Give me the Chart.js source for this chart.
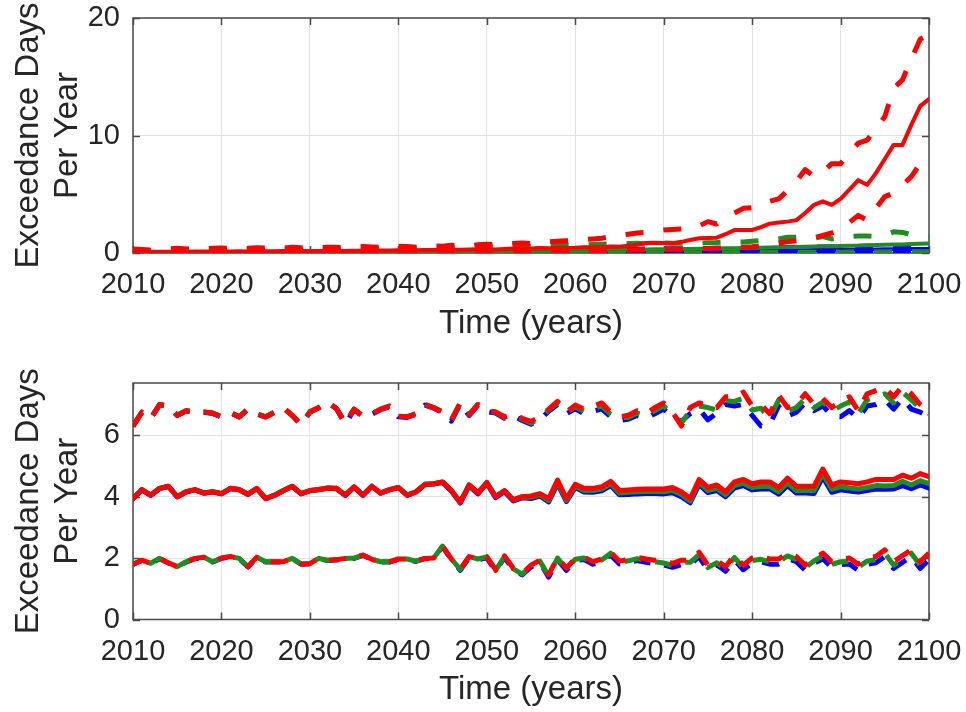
<!DOCTYPE html>
<html>
<head>
<meta charset="utf-8">
<script src="https://cdn.jsdelivr.net/npm/chart.js@4.4.1/dist/chart.umd.min.js"></script>
<style>
  html, body { margin: 0; padding: 0; background: #ffffff; }
  #wrap { position: relative; width: 966px; height: 712px; overflow: hidden; }
  .panel { position: absolute; left: 0; width: 966px; height: 356px; }
</style>
</head>
<body>
<div id="wrap">
  <div class="panel" style="top:0"><canvas id="topChart" width="966" height="356"></canvas></div>
  <div class="panel" style="top:356px"><canvas id="bottomChart" width="966" height="356"></canvas></div>
</div>
<script>
// ---- years on the x axis (2010 .. 2100) ----
const years = [];
for (let y = 2010; y <= 2100; y++) years.push(y);

const xTicks = [2010, 2020, 2030, 2040, 2050, 2060, 2070, 2080, 2090, 2100];
const yTicksTop = [0, 10, 20];
const yTicksBottom = [0, 2, 4, 6];

// ---- upper panel: exceedance days per year ----
const redMedTop = [
  0.10,0.09,0.10,0.11,0.10,0.12,0.11,0.12,0.12,0.13,
  0.12,0.13,0.14,0.13,0.14,0.15,0.14,0.16,0.15,0.17,
  0.16,0.18,0.17,0.19,0.18,0.20,0.19,0.21,0.22,0.21,
  0.23,0.22,0.24,0.25,0.26,0.25,0.28,0.27,0.30,0.31,
  0.32,0.30,0.35,0.38,0.40,0.38,0.42,0.40,0.45,0.43,
  0.45,0.50,0.48,0.52,0.55,0.54,0.62,0.70,0.85,0.88,
  0.85,0.82,0.95,1.10,1.25,1.28,1.30,1.60,1.95,1.96,
  1.96,2.20,2.50,2.60,2.67,2.80,3.40,4.10,4.40,4.10,
  4.60,5.40,6.20,5.80,6.80,8.00,9.20,9.20,10.9,12.5,
  13.1];
const redUpTop = [
  0.35,0.30,0.25,0.30,0.35,0.40,0.35,0.30,0.35,0.40,
  0.42,0.38,0.35,0.40,0.45,0.42,0.38,0.42,0.48,0.45,
  0.40,0.45,0.50,0.48,0.45,0.50,0.55,0.52,0.48,0.55,
  0.58,0.55,0.50,0.55,0.60,0.58,0.65,0.62,0.60,0.70,
  0.75,0.72,0.70,0.80,0.85,0.80,0.90,0.95,1.00,1.05,
  1.05,1.15,1.20,1.25,1.40,1.50,1.60,1.70,1.75,1.85,
  1.95,2.00,2.05,2.10,2.30,2.67,2.47,3.00,3.40,3.80,
  3.85,4.10,4.40,4.60,5.30,6.10,7.10,6.50,6.90,7.60,
  7.60,8.50,9.35,9.60,10.6,11.6,14.0,14.75,16.5,18.2,
  18.6];
const redLowTop = [
  0.02,0.02,0.03,0.02,0.03,0.03,0.02,0.03,0.04,0.03,
  0.03,0.04,0.03,0.04,0.04,0.05,0.04,0.05,0.05,0.06,
  0.05,0.06,0.06,0.07,0.06,0.07,0.08,0.07,0.08,0.09,
  0.08,0.09,0.10,0.09,0.10,0.11,0.10,0.12,0.11,0.12,
  0.12,0.13,0.12,0.14,0.15,0.14,0.16,0.15,0.17,0.18,
  0.17,0.18,0.20,0.19,0.21,0.22,0.24,0.25,0.27,0.30,
  0.30,0.32,0.33,0.35,0.36,0.38,0.40,0.42,0.46,0.50,
  0.54,0.60,0.70,0.85,0.95,1.05,1.15,1.30,1.50,1.70,
  1.95,2.60,3.20,2.80,3.80,4.80,5.10,5.80,6.50,7.60,
  8.50];
const greenMedTop = [
  0.01,0.01,0.01,0.02,0.01,0.02,0.02,0.02,0.02,0.03,
  0.03,0.03,0.03,0.04,0.04,0.04,0.05,0.05,0.05,0.06,
  0.06,0.06,0.07,0.07,0.08,0.08,0.08,0.09,0.09,0.10,
  0.10,0.11,0.11,0.12,0.12,0.13,0.13,0.14,0.15,0.15,
  0.16,0.16,0.17,0.18,0.18,0.19,0.20,0.20,0.21,0.22,
  0.22,0.23,0.24,0.25,0.26,0.27,0.28,0.29,0.30,0.31,
  0.32,0.33,0.34,0.35,0.36,0.37,0.38,0.40,0.41,0.42,
  0.44,0.45,0.46,0.48,0.50,0.52,0.53,0.55,0.57,0.58,
  0.60,0.62,0.63,0.66,0.68,0.70,0.72,0.73,0.76,0.78,
  0.80];
const greenUpTop = [
  0.12,0.10,0.14,0.12,0.15,0.13,0.16,0.15,0.18,0.16,
  0.18,0.20,0.19,0.22,0.21,0.24,0.22,0.25,0.27,0.26,
  0.28,0.30,0.29,0.32,0.34,0.33,0.35,0.38,0.36,0.40,
  0.42,0.40,0.45,0.44,0.48,0.50,0.47,0.52,0.55,0.53,
  0.56,0.58,0.55,0.60,0.62,0.58,0.64,0.66,0.63,0.68,
  0.70,0.68,0.72,0.75,0.78,0.74,0.80,0.82,0.78,0.84,
  0.86,0.84,0.82,0.86,0.85,0.88,0.90,0.95,0.96,0.94,
  1.00,1.05,1.10,1.20,1.35,1.35,1.30,1.25,1.40,1.20,
  1.30,1.40,1.45,1.45,1.40,1.50,1.80,1.75,1.55,1.45,
  1.40];
const greenLowTop = [
  0,0,0,0,0,0,0,0,0,0,
  0,0,0,0,0,0,0,0,0,0,
  0,0,0,0,0,0,0,0,0,0,
  0,0,0,0,0,0,0,0,0,0,
  0,0,0.01,0,0.01,0,0.01,0.01,0,0.01,
  0.01,0.01,0.02,0.01,0.02,0.02,0.01,0.02,0.02,0.03,
  0.02,0.03,0.03,0.02,0.03,0.04,0.03,0.04,0.04,0.05,
  0.04,0.05,0.05,0.06,0.05,0.06,0.07,0.06,0.07,0.08,
  0.07,0.08,0.08,0.09,0.08,0.09,0.10,0.09,0.10,0.11,
  0.10];
const blueMedTop = [
  0.00,0.00,0.01,0.00,0.01,0.01,0.01,0.01,0.01,0.01,
  0.02,0.01,0.02,0.02,0.02,0.02,0.02,0.03,0.02,0.03,
  0.03,0.03,0.03,0.04,0.03,0.04,0.04,0.04,0.04,0.05,
  0.05,0.05,0.05,0.06,0.05,0.06,0.06,0.07,0.06,0.07,
  0.07,0.07,0.08,0.08,0.08,0.09,0.09,0.10,0.09,0.10,
  0.10,0.11,0.11,0.12,0.12,0.12,0.13,0.13,0.14,0.14,
  0.15,0.15,0.16,0.16,0.17,0.17,0.18,0.18,0.19,0.20,
  0.20,0.21,0.21,0.22,0.23,0.23,0.24,0.25,0.25,0.26,
  0.27,0.28,0.28,0.29,0.30,0.31,0.32,0.32,0.33,0.34,
  0.35];
const blueUpTop = [
  0.05,0.04,0.06,0.05,0.06,0.07,0.06,0.07,0.08,0.07,
  0.08,0.09,0.08,0.10,0.09,0.10,0.11,0.10,0.12,0.11,
  0.12,0.13,0.12,0.14,0.13,0.15,0.14,0.16,0.15,0.17,
  0.16,0.18,0.17,0.19,0.18,0.20,0.19,0.21,0.20,0.22,
  0.22,0.23,0.22,0.24,0.25,0.24,0.26,0.27,0.26,0.28,
  0.29,0.28,0.30,0.31,0.30,0.32,0.33,0.32,0.34,0.35,
  0.35,0.36,0.37,0.36,0.38,0.39,0.40,0.41,0.40,0.42,
  0.43,0.44,0.45,0.46,0.47,0.48,0.49,0.50,0.52,0.51,
  0.53,0.54,0.55,0.57,0.56,0.58,0.60,0.59,0.61,0.62,
  0.63];
const blueLowTop = [
  0,0,0,0,0,0,0,0,0,0,
  0,0,0,0,0,0,0,0,0,0,
  0,0,0,0,0,0,0,0,0,0,
  0,0,0,0,0,0,0,0,0,0,
  0,0,0,0,0,0,0,0,0,0,
  0,0,0,0,0,0,0,0,0,0,
  0,0,0,0,0,0,0,0,0,0,
  0.01,0,0.01,0.01,0,0.01,0.01,0.02,0.01,0.02,
  0.02,0.01,0.02,0.02,0.03,0.02,0.03,0.02,0.03,0.03,
  0.03];

// ---- lower panel: exceedance days per year ----
const redMedBot = [
  3.94,4.23,4.05,4.27,4.34,4.00,4.16,4.23,4.12,4.16,
  4.10,4.27,4.23,4.08,4.27,3.94,4.05,4.20,4.34,4.10,
  4.20,4.23,4.28,4.27,4.05,4.32,4.05,4.34,4.12,4.23,
  4.30,4.05,4.16,4.40,4.42,4.48,4.20,3.82,4.38,4.12,
  4.46,4.00,4.20,3.90,4.00,4.02,4.10,3.94,4.54,3.94,
  4.40,4.27,4.27,4.32,4.50,4.20,4.22,4.24,4.25,4.25,
  4.25,4.30,4.16,3.94,4.56,4.30,4.38,4.16,4.48,4.56,
  4.42,4.48,4.48,4.30,4.60,4.34,4.34,4.34,4.90,4.38,
  4.48,4.45,4.42,4.48,4.56,4.56,4.56,4.70,4.60,4.75,
  4.65];
const greenMedBot = [
  3.94,4.23,4.05,4.27,4.34,4.00,4.16,4.23,4.12,4.16,
  4.10,4.27,4.23,4.08,4.27,3.94,4.05,4.20,4.34,4.10,
  4.20,4.23,4.28,4.27,4.05,4.32,4.05,4.34,4.12,4.23,
  4.30,4.05,4.16,4.40,4.42,4.48,4.20,3.82,4.38,4.12,
  4.46,4.00,4.19,3.89,3.99,3.98,4.06,3.88,4.48,3.88,
  4.34,4.20,4.20,4.25,4.42,4.12,4.14,4.16,4.17,4.17,
  4.16,4.20,4.07,3.86,4.46,4.20,4.27,4.06,4.36,4.44,
  4.30,4.34,4.33,4.16,4.45,4.20,4.20,4.20,4.74,4.24,
  4.32,4.28,4.25,4.30,4.36,4.35,4.36,4.50,4.38,4.52,
  4.42];
const blueMedBot = [
  3.93,4.22,4.04,4.26,4.33,3.99,4.15,4.22,4.11,4.15,
  4.09,4.26,4.22,4.07,4.26,3.93,4.04,4.19,4.33,4.09,
  4.19,4.22,4.27,4.26,4.04,4.31,4.04,4.33,4.11,4.22,
  4.29,4.04,4.15,4.39,4.41,4.46,4.18,3.79,4.35,4.09,
  4.43,3.97,4.16,3.86,3.96,3.94,4.02,3.83,4.42,3.84,
  4.30,4.15,4.14,4.19,4.36,4.06,4.07,4.09,4.10,4.10,
  4.09,4.13,4.00,3.80,4.40,4.13,4.20,4.00,4.28,4.36,
  4.22,4.25,4.25,4.08,4.36,4.12,4.12,4.10,4.64,4.14,
  4.22,4.18,4.15,4.20,4.25,4.24,4.25,4.36,4.26,4.38,
  4.28];
const redLowBot = [
  1.80,1.93,1.83,1.99,1.85,1.72,1.88,1.99,2.03,1.88,
  2.00,2.05,1.99,1.72,2.03,1.88,1.88,1.88,1.99,1.81,
  1.82,1.99,1.93,1.95,1.99,2.00,2.10,1.96,1.88,1.88,
  1.97,1.97,1.90,1.99,2.00,2.39,1.97,1.63,2.05,1.97,
  2.05,1.62,2.07,1.67,1.50,1.77,1.93,1.45,2.03,1.67,
  1.99,2.03,1.88,1.97,2.20,1.90,1.95,2.03,1.97,1.93,
  1.90,1.83,1.93,1.93,2.19,1.77,1.93,1.72,2.10,1.77,
  2.00,2.05,1.97,1.97,2.16,2.05,1.77,2.00,2.16,1.88,
  1.97,2.00,1.80,2.00,2.05,2.27,1.88,2.08,2.27,1.88,
  2.16];
const greenLowBot = [
  1.80,1.93,1.83,1.99,1.85,1.72,1.88,1.99,2.03,1.88,
  2.00,2.05,1.99,1.72,2.03,1.88,1.88,1.88,1.99,1.81,
  1.82,1.99,1.93,1.95,1.99,2.00,2.10,1.96,1.88,1.88,
  1.97,1.97,1.90,1.99,2.00,2.39,1.97,1.63,2.05,1.97,
  2.04,1.60,2.05,1.65,1.48,1.74,1.90,1.42,2.00,1.64,
  1.96,2.00,1.85,1.94,2.16,1.86,1.91,1.98,1.92,1.88,
  1.84,1.76,1.86,1.86,2.11,1.69,1.85,1.64,2.02,1.69,
  1.92,1.96,1.88,1.88,2.07,1.96,1.68,1.91,2.07,1.79,
  1.88,1.90,1.70,1.90,1.95,2.16,1.77,1.97,2.16,1.77,
  2.06];
const blueLowBot = [
  1.79,1.92,1.82,1.98,1.84,1.71,1.87,1.98,2.02,1.87,
  1.99,2.04,1.98,1.71,2.02,1.87,1.87,1.87,1.98,1.80,
  1.81,1.98,1.92,1.94,1.98,1.99,2.09,1.95,1.87,1.87,
  1.96,1.96,1.89,1.98,1.99,2.37,1.95,1.60,2.02,1.94,
  2.01,1.57,2.02,1.62,1.45,1.71,1.86,1.38,1.95,1.60,
  1.92,1.95,1.80,1.89,2.10,1.81,1.86,1.92,1.86,1.82,
  1.78,1.70,1.79,1.79,2.04,1.62,1.78,1.57,1.94,1.62,
  1.84,1.88,1.80,1.80,1.98,1.88,1.60,1.83,1.98,1.70,
  1.79,1.81,1.60,1.80,1.85,2.05,1.66,1.86,2.05,1.66,
  1.95];
const redUpBot = [
  6.30,6.75,6.55,7.00,6.95,6.65,6.80,6.75,6.76,6.72,
  6.60,6.74,6.60,6.86,6.70,6.60,6.75,6.90,6.65,6.35,
  6.76,6.90,7.08,6.87,6.40,6.85,6.62,6.70,6.85,6.95,
  6.62,6.60,6.70,7.00,6.90,6.76,6.50,7.05,6.67,7.00,
  6.80,6.76,6.60,6.70,6.55,6.45,6.60,6.85,7.10,6.76,
  6.98,6.85,6.95,7.05,6.75,6.60,6.65,6.80,6.70,6.90,
  7.05,6.75,6.30,6.90,7.05,7.00,6.90,7.25,7.25,7.40,
  6.95,7.00,6.70,7.30,6.90,7.00,7.35,7.00,7.20,6.90,
  7.10,7.25,6.80,7.35,7.45,7.55,7.25,7.60,7.35,7.00,
  6.80];
const greenUpBot = [
  6.30,6.75,6.55,7.00,6.95,6.65,6.80,6.75,6.76,6.72,
  6.60,6.74,6.60,6.86,6.70,6.60,6.75,6.90,6.65,6.35,
  6.76,6.90,7.08,6.87,6.40,6.85,6.62,6.70,6.85,6.95,
  6.62,6.60,6.70,7.00,6.90,6.76,6.50,7.05,6.67,7.00,
  6.80,6.75,6.58,6.68,6.52,6.40,6.55,6.82,7.05,6.74,
  6.92,6.78,6.86,6.95,6.68,6.55,6.58,6.72,6.62,6.80,
  6.95,6.66,6.40,6.80,6.95,6.90,6.82,7.12,7.10,7.20,
  6.82,6.88,6.55,7.15,6.78,6.90,7.20,6.90,7.08,6.78,
  6.95,7.08,6.70,7.15,7.25,7.35,7.05,7.40,7.15,6.88,
  6.70];
const blueUpBot = [
  6.29,6.74,6.54,6.99,6.94,6.64,6.79,6.74,6.75,6.71,
  6.59,6.73,6.59,6.85,6.69,6.59,6.74,6.89,6.64,6.34,
  6.75,6.89,7.07,6.86,6.36,6.83,6.60,6.68,6.83,6.93,
  6.60,6.58,6.68,6.98,6.88,6.74,6.46,7.02,6.64,6.97,
  6.77,6.72,6.55,6.64,6.48,6.36,6.50,6.78,7.00,6.70,
  6.86,6.70,6.78,6.86,6.60,6.48,6.52,6.64,6.55,6.70,
  6.85,6.58,6.45,6.70,6.85,6.50,6.72,7.00,6.95,7.00,
  6.65,6.30,6.35,6.95,6.62,6.75,7.05,6.80,6.95,6.65,
  6.60,6.80,6.55,6.95,7.00,7.15,6.85,7.20,6.85,6.75,
  6.62];

// ---- styling ----
const RED = '#ff0000';
const GREEN = '#228b22';
const BLUE = '#0000ff';
const TEXT = '#262626';
const FONT = "'Liberation Sans', Arial, Helvetica, sans-serif";

function pts(values) {
  return years.map((x, i) => ({ x: x, y: values[i] }));
}

function line(label, values, color, width, dash, dashOffset) {
  return {
    label: label,
    data: pts(values),
    borderColor: color,
    backgroundColor: color,
    borderWidth: width,
    borderDash: dash || [],
    borderDashOffset: dashOffset || 0,
    borderCapStyle: dash ? 'butt' : 'round',
    borderJoinStyle: 'round',
    pointRadius: 0,
    pointHoverRadius: 0,
    tension: 0,
    fill: false
  };
}

// Box around the plot area with inward tick marks on all four sides
const framePlugin = {
  id: 'frame',
  beforeDatasetsDraw(chart) {
    const { ctx, chartArea: a, scales } = chart;
    ctx.save();
    ctx.strokeStyle = '#4a4a4a';
    ctx.lineWidth = 1.5;
    ctx.beginPath();
    scales.x.ticks.forEach(t => {
      const px = Math.round(scales.x.getPixelForValue(t.value)) + 0.5;
      ctx.moveTo(px, a.bottom); ctx.lineTo(px, a.bottom - 7);
      ctx.moveTo(px, a.top); ctx.lineTo(px, a.top + 7);
    });
    scales.y.ticks.forEach(t => {
      const py = Math.round(scales.y.getPixelForValue(t.value)) + 0.5;
      ctx.moveTo(a.left, py); ctx.lineTo(a.left + 7, py);
      ctx.moveTo(a.right, py); ctx.lineTo(a.right - 7, py);
    });
    ctx.stroke();
    ctx.strokeRect(a.left, a.top, a.right - a.left, a.bottom - a.top);
    ctx.restore();
  }
};

function makeOptions(yMin, yMax, yTicks, plotTop, plotBottom, titleBottomPad) {
  const canvasH = 356;
  return {
    responsive: false,
    animation: false,
    events: [],
    layout: { padding: { left: 0, right: 37, top: plotTop, bottom: 0 } },
    plugins: { legend: { display: false }, tooltip: { enabled: false } },
    scales: {
      x: {
        type: 'linear',
        min: 2010,
        max: 2100,
        afterBuildTicks: s => { s.ticks = xTicks.map(v => ({ value: v })); },
        afterFit: s => {
          s.height = canvasH - plotBottom;
          s.paddingLeft = 0; s.paddingRight = 0;
        },
        grid: { color: '#e2e2e2', lineWidth: 1, drawTicks: false },
        border: { display: false },
        ticks: {
          padding: 15,
          color: TEXT,
          maxRotation: 0,
          autoSkip: false,
          font: { family: FONT, size: 29, lineHeight: 1.2 },
          callback: v => String(v)
        },
        title: {
          display: true,
          text: 'Time (years)',
          color: TEXT,
          font: { family: FONT, size: 33, lineHeight: 1.2 },
          padding: { top: 0, bottom: titleBottomPad }
        }
      },
      y: {
        type: 'linear',
        min: yMin,
        max: yMax,
        afterBuildTicks: s => { s.ticks = yTicks.map(v => ({ value: v })); },
        afterFit: s => {
          s.width = 133;
          s.paddingTop = 0; s.paddingBottom = 0;
        },
        grid: { color: '#e2e2e2', lineWidth: 1, drawTicks: false },
        border: { display: false },
        ticks: {
          padding: 13,
          color: TEXT,
          autoSkip: false,
          font: { family: FONT, size: 29, lineHeight: 1.2 },
          callback: v => String(v)
        },
        title: {
          display: true,
          text: ['Exceedance Days', 'Per Year'],
          color: TEXT,
          font: { family: FONT, size: 33, lineHeight: 1.2 },
          padding: { top: 9, bottom: 0 }
        }
      }
    }
  };
}

// Upper panel: red drawn on top, then green, then blue
const topDash = [18, 20];
new Chart(document.getElementById('topChart'), {
  type: 'line',
  data: {
    datasets: [
      line('red median', redMedTop, RED, 4),
      line('red upper', redUpTop, RED, 5, topDash),
      line('red lower', redLowTop, RED, 5, topDash),
      line('green median', greenMedTop, GREEN, 4),
      line('green upper', greenUpTop, GREEN, 5, topDash),
      line('green lower', greenLowTop, GREEN, 5, topDash, 19),
      line('blue median', blueMedTop, BLUE, 4),
      line('blue upper', blueUpTop, BLUE, 5, topDash),
      line('blue lower', blueLowTop, BLUE, 5, topDash)
    ]
  },
  options: makeOptions(0, 20, yTicksTop, 18, 253, 12),
  plugins: [framePlugin]
});

// Lower panel
const botDash = [17, 14];
new Chart(document.getElementById('bottomChart'), {
  type: 'line',
  data: {
    datasets: [
      line('red median', redMedBot, RED, 5),
      line('red upper', redUpBot, RED, 5, botDash),
      line('red lower', redLowBot, RED, 5, botDash),
      line('green median', greenMedBot, GREEN, 5),
      line('green upper', greenUpBot, GREEN, 5, botDash),
      line('green lower', greenLowBot, GREEN, 5, botDash, 15),
      line('blue median', blueMedBot, BLUE, 5),
      line('blue upper', blueUpBot, BLUE, 5, botDash),
      line('blue lower', blueLowBot, BLUE, 5, botDash, 7)
    ]
  },
  options: makeOptions(0, 7.7, yTicksBottom, 27, 263.5, 2),
  plugins: [framePlugin]
});
</script>
</body>
</html>
